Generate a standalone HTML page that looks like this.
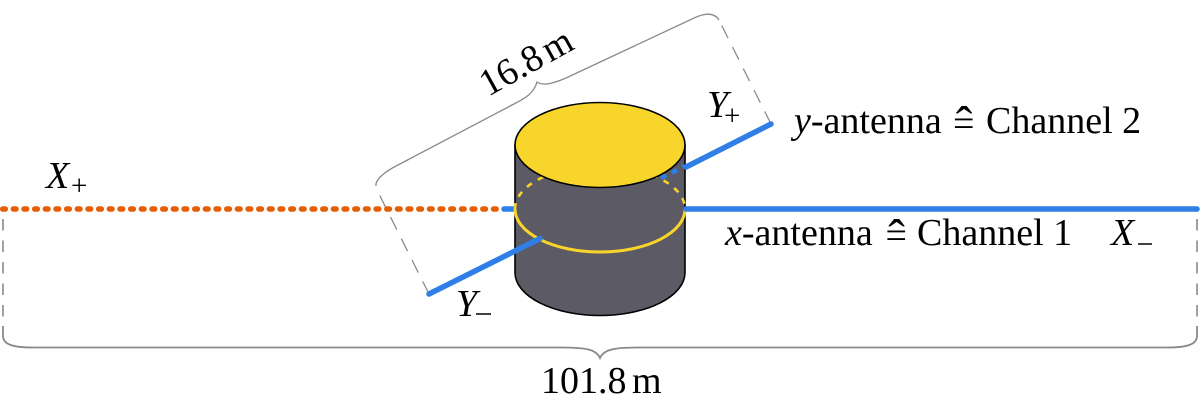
<!DOCTYPE html>
<html><head><meta charset="utf-8"><style>
html,body{margin:0;padding:0;background:#fff}
svg{display:block}
text{font-family:"Liberation Serif",serif;fill:#000}
</style></head><body>
<svg width="1200" height="406" viewBox="0 0 1200 406" xmlns="http://www.w3.org/2000/svg">
<!-- dashed guides -->
<g fill="none" stroke="#8a8a8e" stroke-width="1.6">
<path d="M3 219V318" stroke-dasharray="11.5 10"/>
<path d="M1197 219V318" stroke-dasharray="11.5 10"/>
<path d="M771 124L719 20" stroke-dasharray="14 10" stroke-width="1.3"/>
<path d="M429 294L376 188" stroke-dasharray="14 10" stroke-width="1.3"/>
<!-- braces -->
<path d="M3 326V336C3 344 12 347.5 32 347.5H560C585 347.5 596 349 600 358C604 349 615 347.5 640 347.5H1168C1188 347.5 1197 344 1197 336V326" stroke-width="1.8"/>
<path d="M376 186C375 180 384 172 398 165L512 105C526 98 534 93 537 82C543 86 552 84 566 78L692 19C704 13 714 12 719 20" stroke-width="1.3"/>
</g>
<!-- orange dotted -->
<path d="M0 209H497" stroke="#e85d04" stroke-width="5.5" stroke-linecap="round" stroke-dasharray="2.6 8.07" stroke-dashoffset="-2.7" fill="none"/>
<!-- blue outer -->
<path d="M504 209H515" stroke="#2f7fe6" stroke-width="5.5" stroke-linecap="round" fill="none"/>
<!-- cylinder -->
<path d="M515 145V272.500A85 43 0 0 0 685 272.500V145Z" fill="#5c5a64" stroke="#000" stroke-width="1.6"/>
<!-- ring -->
<path d="M515 209A85 43 0 0 0 685 209" fill="none" stroke="#f9d52b" stroke-width="3"/>
<path d="M515 209A85 43 0 0 1 685 209" fill="none" stroke="#f9d52b" stroke-width="2.600" stroke-dasharray="6 7"/>
<!-- Y- -->
<path d="M429 294L540 238.500" stroke="#2f7fe6" stroke-width="5.500" stroke-linecap="round" fill="none"/>
<!-- blue dashes on cylinder -->
<path d="M661 178L685 166" stroke="#2f7fe6" stroke-width="4.500" stroke-dasharray="6 6" fill="none"/>
<!-- top -->
<ellipse cx="600" cy="145" rx="85" ry="42.500" fill="#f8d52b" stroke="#000" stroke-width="1.600"/>
<!-- blue right -->
<g stroke="#2f7fe6" stroke-width="5.500" stroke-linecap="round" fill="none">
<path d="M686 209H1197"/>
<path d="M686 167L771 124"/>
</g>
<!-- labels -->
<g font-size="38">
<text x="794" y="133"><tspan font-style="italic">y</tspan>-antenna</text>
<text x="953" y="136">=</text>
<text x="986" y="133">Channel 2</text>
<text x="725" y="245"><tspan font-style="italic">x</tspan>-antenna</text>
<text x="885.500" y="248">=</text>
<text x="917" y="245">Channel 1</text>
<text x="541" y="393">101.8</text>
<text x="632" y="393">m</text>
<text transform="translate(488 97) rotate(-29)">16.8<tspan dx="-5"> </tspan><tspan>m</tspan></text>
<text x="46" y="188" font-style="italic">X</text>
<text x="1111" y="245" font-style="italic">X</text>
<text x="707" y="117" font-style="italic">Y</text>
<text x="456" y="316" font-style="italic">Y</text>
</g>
<g font-size="50">
<text x="955.700" y="141">ˆ</text>
<text x="888.200" y="254">ˆ</text>
</g>
<g font-size="29">
<text x="71" y="195">+</text>
<text x="724" y="125">+</text>
</g>
<path d="M1138 244H1152M476 314H491" stroke="#000" stroke-width="1.600"/>
</svg>
</body></html>
